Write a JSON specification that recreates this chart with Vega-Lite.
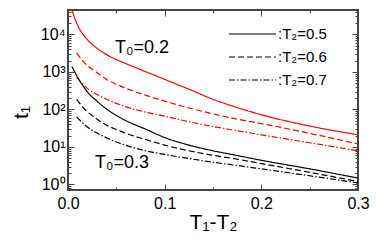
{
  "$schema": "https://vega.github.io/schema/vega-lite/v6.json",
  "width": 290,
  "height": 180,
  "autosize": {"type": "none"},
  "padding": {"left": 68, "top": 10, "right": 24, "bottom": 58},
  "background": "white",
  "config": {
    "view": {"stroke": "#444", "strokeWidth": 2},
    "font": "Liberation Sans",
    "axis": {"grid": false, "domain": false, "tickColor": "#444", "tickWidth": 1, "labelColor": "#000", "titleColor": "#000", "labelFont": "Liberation Sans", "titleFont": "Liberation Sans", "titleFontWeight": "normal", "labelOverlap": false, "labelFlush": false}
  },
  "datasets": {
    "curves": [
      {"x": 0.004, "t": 45700, "T0": "0.2", "T2": "0.5"},
      {"x": 0.005, "t": 38000, "T0": "0.2", "T2": "0.5"},
      {"x": 0.01, "t": 17400, "T0": "0.2", "T2": "0.5"},
      {"x": 0.015, "t": 10500, "T0": "0.2", "T2": "0.5"},
      {"x": 0.02, "t": 7240, "T0": "0.2", "T2": "0.5"},
      {"x": 0.03, "t": 4270, "T0": "0.2", "T2": "0.5"},
      {"x": 0.04, "t": 2880, "T0": "0.2", "T2": "0.5"},
      {"x": 0.05, "t": 2140, "T0": "0.2", "T2": "0.5"},
      {"x": 0.06, "t": 1660, "T0": "0.2", "T2": "0.5"},
      {"x": 0.08, "t": 1020, "T0": "0.2", "T2": "0.5"},
      {"x": 0.1, "t": 630, "T0": "0.2", "T2": "0.5"},
      {"x": 0.125, "t": 347, "T0": "0.2", "T2": "0.5"},
      {"x": 0.15, "t": 186, "T0": "0.2", "T2": "0.5"},
      {"x": 0.175, "t": 112, "T0": "0.2", "T2": "0.5"},
      {"x": 0.2, "t": 72, "T0": "0.2", "T2": "0.5"},
      {"x": 0.25, "t": 36, "T0": "0.2", "T2": "0.5"},
      {"x": 0.3, "t": 21, "T0": "0.2", "T2": "0.5"},

      {"x": 0.009, "t": 3200, "T0": "0.2", "T2": "0.6"},
      {"x": 0.015, "t": 2000, "T0": "0.2", "T2": "0.6"},
      {"x": 0.02, "t": 1480, "T0": "0.2", "T2": "0.6"},
      {"x": 0.03, "t": 955, "T0": "0.2", "T2": "0.6"},
      {"x": 0.04, "t": 630, "T0": "0.2", "T2": "0.6"},
      {"x": 0.05, "t": 470, "T0": "0.2", "T2": "0.6"},
      {"x": 0.06, "t": 365, "T0": "0.2", "T2": "0.6"},
      {"x": 0.08, "t": 240, "T0": "0.2", "T2": "0.6"},
      {"x": 0.1, "t": 166, "T0": "0.2", "T2": "0.6"},
      {"x": 0.125, "t": 110, "T0": "0.2", "T2": "0.6"},
      {"x": 0.15, "t": 76, "T0": "0.2", "T2": "0.6"},
      {"x": 0.175, "t": 55, "T0": "0.2", "T2": "0.6"},
      {"x": 0.2, "t": 42, "T0": "0.2", "T2": "0.6"},
      {"x": 0.25, "t": 23, "T0": "0.2", "T2": "0.6"},
      {"x": 0.3, "t": 12, "T0": "0.2", "T2": "0.6"},

      {"x": 0.009, "t": 710, "T0": "0.2", "T2": "0.7"},
      {"x": 0.015, "t": 480, "T0": "0.2", "T2": "0.7"},
      {"x": 0.02, "t": 363, "T0": "0.2", "T2": "0.7"},
      {"x": 0.03, "t": 251, "T0": "0.2", "T2": "0.7"},
      {"x": 0.04, "t": 186, "T0": "0.2", "T2": "0.7"},
      {"x": 0.05, "t": 145, "T0": "0.2", "T2": "0.7"},
      {"x": 0.06, "t": 117, "T0": "0.2", "T2": "0.7"},
      {"x": 0.08, "t": 85, "T0": "0.2", "T2": "0.7"},
      {"x": 0.1, "t": 66, "T0": "0.2", "T2": "0.7"},
      {"x": 0.125, "t": 47, "T0": "0.2", "T2": "0.7"},
      {"x": 0.15, "t": 35, "T0": "0.2", "T2": "0.7"},
      {"x": 0.175, "t": 27, "T0": "0.2", "T2": "0.7"},
      {"x": 0.2, "t": 21, "T0": "0.2", "T2": "0.7"},
      {"x": 0.25, "t": 12.9, "T0": "0.2", "T2": "0.7"},
      {"x": 0.3, "t": 7.9, "T0": "0.2", "T2": "0.7"},

      {"x": 0.004, "t": 1400, "T0": "0.3", "T2": "0.5"},
      {"x": 0.008, "t": 890, "T0": "0.3", "T2": "0.5"},
      {"x": 0.01, "t": 710, "T0": "0.3", "T2": "0.5"},
      {"x": 0.015, "t": 447, "T0": "0.3", "T2": "0.5"},
      {"x": 0.02, "t": 295, "T0": "0.3", "T2": "0.5"},
      {"x": 0.03, "t": 166, "T0": "0.3", "T2": "0.5"},
      {"x": 0.04, "t": 102, "T0": "0.3", "T2": "0.5"},
      {"x": 0.05, "t": 69, "T0": "0.3", "T2": "0.5"},
      {"x": 0.06, "t": 50, "T0": "0.3", "T2": "0.5"},
      {"x": 0.08, "t": 30, "T0": "0.3", "T2": "0.5"},
      {"x": 0.1, "t": 17.8, "T0": "0.3", "T2": "0.5"},
      {"x": 0.125, "t": 11.2, "T0": "0.3", "T2": "0.5"},
      {"x": 0.15, "t": 7.9, "T0": "0.3", "T2": "0.5"},
      {"x": 0.175, "t": 5.9, "T0": "0.3", "T2": "0.5"},
      {"x": 0.2, "t": 4.4, "T0": "0.3", "T2": "0.5"},
      {"x": 0.25, "t": 2.6, "T0": "0.3", "T2": "0.5"},
      {"x": 0.3, "t": 1.48, "T0": "0.3", "T2": "0.5"},

      {"x": 0.009, "t": 186, "T0": "0.3", "T2": "0.6"},
      {"x": 0.015, "t": 117, "T0": "0.3", "T2": "0.6"},
      {"x": 0.02, "t": 87, "T0": "0.3", "T2": "0.6"},
      {"x": 0.03, "t": 55, "T0": "0.3", "T2": "0.6"},
      {"x": 0.04, "t": 38, "T0": "0.3", "T2": "0.6"},
      {"x": 0.05, "t": 29, "T0": "0.3", "T2": "0.6"},
      {"x": 0.06, "t": 23, "T0": "0.3", "T2": "0.6"},
      {"x": 0.08, "t": 15.8, "T0": "0.3", "T2": "0.6"},
      {"x": 0.1, "t": 11.2, "T0": "0.3", "T2": "0.6"},
      {"x": 0.125, "t": 7.9, "T0": "0.3", "T2": "0.6"},
      {"x": 0.15, "t": 6.0, "T0": "0.3", "T2": "0.6"},
      {"x": 0.175, "t": 4.7, "T0": "0.3", "T2": "0.6"},
      {"x": 0.2, "t": 3.6, "T0": "0.3", "T2": "0.6"},
      {"x": 0.25, "t": 2.1, "T0": "0.3", "T2": "0.6"},
      {"x": 0.3, "t": 1.2, "T0": "0.3", "T2": "0.6"},

      {"x": 0.009, "t": 63, "T0": "0.3", "T2": "0.7"},
      {"x": 0.015, "t": 44, "T0": "0.3", "T2": "0.7"},
      {"x": 0.02, "t": 34, "T0": "0.3", "T2": "0.7"},
      {"x": 0.03, "t": 23.4, "T0": "0.3", "T2": "0.7"},
      {"x": 0.04, "t": 17.4, "T0": "0.3", "T2": "0.7"},
      {"x": 0.05, "t": 13.5, "T0": "0.3", "T2": "0.7"},
      {"x": 0.06, "t": 11.0, "T0": "0.3", "T2": "0.7"},
      {"x": 0.08, "t": 7.9, "T0": "0.3", "T2": "0.7"},
      {"x": 0.1, "t": 6.3, "T0": "0.3", "T2": "0.7"},
      {"x": 0.125, "t": 4.9, "T0": "0.3", "T2": "0.7"},
      {"x": 0.15, "t": 3.9, "T0": "0.3", "T2": "0.7"},
      {"x": 0.175, "t": 3.2, "T0": "0.3", "T2": "0.7"},
      {"x": 0.2, "t": 2.6, "T0": "0.3", "T2": "0.7"},
      {"x": 0.25, "t": 1.7, "T0": "0.3", "T2": "0.7"},
      {"x": 0.3, "t": 1.1, "T0": "0.3", "T2": "0.7"}
    ],
    "notes": [
      {"x": 0.0486, "t": 3160, "label": "T₀=0.2"},
      {"x": 0.0279, "t": 2.67, "label": "T₀=0.3"}
    ]
  },
  "layer": [
    {
      "data": {"name": "curves"},
      "mark": {"type": "line", "interpolate": "monotone", "strokeWidth": 1.2, "clip": true},
      "encoding": {
        "x": {
          "field": "x", "type": "quantitative",
          "scale": {"domain": [0, 0.3], "nice": false, "zero": false},
          "axis": {
            "orient": "bottom",
            "values": [0, 0.05, 0.1, 0.15, 0.2, 0.25, 0.3],
            "labelExpr": "round(datum.value*20) % 2 == 0 ? format(datum.value, '.1f') : ''",
            "tickSize": {"condition": {"test": "round(datum.value*20) % 2 == 0", "value": -6}, "value": -3},
            "labelPadding": 11,
            "labelFontSize": 16,
            "title": "T₁-T₂",
            "titleFontSize": 21,
            "titleBaseline": "alphabetic",
            "titleY": 38
          }
        },
        "y": {
          "field": "t", "type": "quantitative",
          "scale": {"type": "log", "domain": [0.71, 44700], "nice": false},
          "axis": {
            "orient": "left",
            "values": [0.8, 0.9, 1, 2, 3, 4, 5, 6, 7, 8, 9, 10, 20, 30, 40, 50, 60, 70, 80, 90, 100, 200, 300, 400, 500, 600, 700, 800, 900, 1000, 2000, 3000, 4000, 5000, 6000, 7000, 8000, 9000, 10000, 20000, 30000, 40000],
            "labelExpr": "abs(log(datum.value)/LN10 - round(log(datum.value)/LN10)) < 0.001 ? '10' + ['⁰','¹','²','³','⁴'][round(log(datum.value)/LN10)] : ''",
            "tickSize": {"condition": {"test": "abs(log(datum.value)/LN10 - round(log(datum.value)/LN10)) < 0.001", "value": -6}, "value": -3},
            "labelPadding": 9,
            "labelFontSize": 16,
            "title": "t₁",
            "titleFontSize": 21,
            "titleAngle": 270,
            "titleBaseline": "alphabetic",
            "titleAlign": "center",
            "titleX": -41,
            "titleY": 102
          }
        },
        "color": {
          "field": "T0", "type": "nominal",
          "scale": {"domain": ["0.2", "0.3"], "range": ["#ff0000", "#000000"]},
          "legend": null
        },
        "strokeDash": {
          "field": "T2", "type": "nominal",
          "scale": {"domain": ["0.5", "0.6", "0.7"], "range": [[1, 0], [6, 3], [6, 2, 1.5, 2]]},
          "legend": {
            "orient": "none",
            "legendX": 160,
            "legendY": 15,
            "title": null,
            "symbolType": "stroke",
            "symbolSize": 2209,
            "clipHeight": 18,
            "rowPadding": 5,
            "symbolStrokeColor": "#000",
            "symbolStrokeWidth": 1.2,
            "labelFontSize": 15,
            "labelFont": "Liberation Sans",
            "labelColor": "#000",
            "labelExpr": "':T₂=' + datum.label",
            "labelOffset": 1
          }
        }
      }
    },
    {
      "data": {"name": "curves"},
      "mark": {"type": "point", "opacity": 0},
      "encoding": {
        "x": {
          "field": "x", "type": "quantitative",
          "axis": {
            "orient": "top",
            "values": [0, 0.05, 0.1, 0.15, 0.2, 0.25, 0.3],
            "labels": false,
            "title": null,
            "tickSize": {"condition": {"test": "round(datum.value*20) % 2 == 0", "value": -6}, "value": -3}
          }
        },
        "y": {
          "field": "t", "type": "quantitative",
          "axis": {
            "orient": "right",
            "values": [0.8, 0.9, 1, 2, 3, 4, 5, 6, 7, 8, 9, 10, 20, 30, 40, 50, 60, 70, 80, 90, 100, 200, 300, 400, 500, 600, 700, 800, 900, 1000, 2000, 3000, 4000, 5000, 6000, 7000, 8000, 9000, 10000, 20000, 30000, 40000],
            "labels": false,
            "title": null,
            "tickSize": {"condition": {"test": "abs(log(datum.value)/LN10 - round(log(datum.value)/LN10)) < 0.001", "value": -6}, "value": -3}
          }
        }
      }
    },
    {
      "data": {"name": "notes"},
      "mark": {"type": "text", "align": "left", "baseline": "alphabetic", "fontSize": 18, "font": "Liberation Sans", "color": "#000"},
      "encoding": {
        "x": {"field": "x", "type": "quantitative", "axis": null},
        "y": {"field": "t", "type": "quantitative", "axis": null},
        "text": {"field": "label"}
      }
    }
  ],
  "resolve": {"axis": {"x": "independent", "y": "independent"}}
}
